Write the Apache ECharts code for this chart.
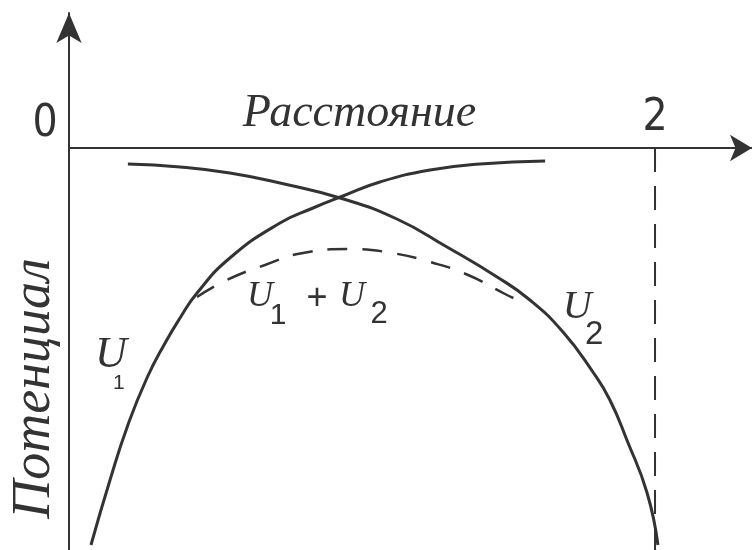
<!DOCTYPE html>
<html>
<head>
<meta charset="utf-8">
<script src="https://cdn.jsdelivr.net/npm/echarts@6/dist/echarts.min.js"></script>
<style>
  html, body { margin: 0; padding: 0; background: #fff; }
  #chart { width: 752px; height: 550px; }
</style>
</head>
<body>
<div id="chart"></div>
<script>
// Potential along the line joining two centres (distance 0 .. 2, arbitrary units)
const u1Distance  = [0.075, 0.140, 0.201, 0.266, 0.328, 0.379, 0.437, 0.549, 0.720, 0.833, 0.935, 1.061, 1.232, 1.403, 1.625];
const u1Potential = [-3.97, -3.32, -2.77, -2.30, -1.95, -1.70, -1.45, -1.10, -0.75, -0.60, -0.48, -0.34, -0.22, -0.16, -0.13];

const u2Distance  = [0.201, 0.379, 0.549, 0.720, 0.925, 1.119, 1.290, 1.461, 1.573, 1.686, 1.788, 1.846, 1.904, 1.973, 2.010];
const u2Potential = [-0.16, -0.19, -0.25, -0.35, -0.50, -0.71, -0.99, -1.29, -1.52, -1.84, -2.24, -2.52, -2.92, -3.45, -3.97];

const sumDistance  = [0.437, 0.539, 0.669, 0.799, 0.959, 1.102, 1.232, 1.362, 1.488, 1.532];
const sumPotential = [-1.49, -1.32, -1.17, -1.05, -1.01, -1.05, -1.14, -1.27, -1.46, -1.52];

// position of the second centre
const boundaryDistance  = [2, 2];
const boundaryPotential = [0, -4.02];

const xTickValues = [0, 2];
const xTickLabels = ['0', '2'];
const xAxisTitle = 'Расстояние';
const yAxisTitle = 'Потенциал';

const pairs = (xs, ys) => xs.map((x, i) => [x, ys[i]]);

const INK = '#333';
const DIGITS = '"Liberation Sans Narrow", "DejaVu Sans Condensed", "Liberation Sans", sans-serif';
const chart = echarts.init(document.getElementById('chart'), null, { renderer: 'canvas' });

const curve = (name, xs, ys, lineStyle) => ({
  name, type: 'line', data: pairs(xs, ys), xAxisIndex: 0, yAxisIndex: 0,
  smooth: 0.5, showSymbol: false, silent: true, clip: false, lineStyle
});

const option = {
  backgroundColor: '#fff',
  animation: false,
  grid: [
    // plotting area: below the distance axis
    { left: 69, right: 0, top: 148, bottom: 0, outerBoundsMode: 'none' },
    // carries the potential axis, which runs up past the distance axis
    { left: 69, right: 0, top: 13, bottom: 0, outerBoundsMode: 'none' }
  ],
  xAxis: [
    {
      gridIndex: 0,
      type: 'value',
      position: 'top',
      min: 0,
      max: 2.331,
      axisLine: {
        onZero: false,
        symbol: ['none', 'arrow'],
        symbolSize: [20, 22],
        lineStyle: { color: INK, width: 2 }
      },
      axisTick: { show: false },
      splitLine: { show: false },
      axisLabel: {
        margin: 1,
        customValues: xTickValues,
        formatter: v => {
          const t = xTickLabels[xTickValues.indexOf(v)];
          return v === 0 ? '{o|' + t + '}' : '{t|' + t + '}';
        },
        rich: {
          o: { fontSize: 44, fontFamily: DIGITS, color: INK, padding: [0, 48, 0, 0] },
          t: { fontSize: 44, fontFamily: DIGITS, color: INK, padding: [0, 0, 6, 0] }
        }
      },
      name: xAxisTitle,
      nameLocation: 'middle',
      nameGap: 34,
      nameMoveOverlap: false,
      nameTextStyle: {
        fontFamily: '"Liberation Serif", serif',
        fontStyle: 'italic',
        fontSize: 46,
        color: INK,
        verticalAlign: 'middle',
        padding: [0, 102, 0, 0]
      }
    },
    { gridIndex: 1, type: 'value', min: 0, max: 1, show: false }
  ],
  yAxis: [
    { gridIndex: 0, type: 'value', min: -4.02, max: 0, show: false },
    {
      gridIndex: 1,
      type: 'value',
      min: -4.02,
      max: 1.35,
      axisLine: {
        onZero: false,
        symbol: ['none', 'arrow'],
        symbolSize: [19, 30],
        lineStyle: { color: INK, width: 2 }
      },
      axisTick: { show: false },
      splitLine: { show: false },
      axisLabel: { show: false },
      name: yAxisTitle,
      nameLocation: 'middle',
      nameRotate: 90,
      nameGap: 34,
      nameMoveOverlap: false,
      nameTextStyle: {
        fontFamily: '"Liberation Serif", serif',
        fontStyle: 'italic',
        fontSize: 54,
        color: INK,
        verticalAlign: 'middle',
        padding: [0, 214, 0, 0]
      }
    }
  ],
  series: [
    curve('U1', u1Distance, u1Potential, { color: INK, width: 3 }),
    curve('U2', u2Distance, u2Potential, { color: INK, width: 3 }),
    curve('U1 + U2', sumDistance, sumPotential, { color: INK, width: 2.5, type: [20, 15] }),
    Object.assign(curve('boundary', boundaryDistance, boundaryPotential, { color: INK, width: 2, type: [24, 14] }), { smooth: false })
  ]
};
chart.setOption(option);

// Curve labels "U" with subscripts, anchored in data space
const serifItalic = size => 'italic ' + size + 'px "Liberation Serif", serif';
const sans = size => size + 'px "Liberation Sans", sans-serif';
const curveNotes = [
  { at: [0.143, -2.07], parts: [
    { t: 'U', f: serifItalic(44), dx: 0, dy: 0 },
    { t: '1', f: sans(21), dx: 8, dy: 28 }
  ]},
  { at: [0.652, -1.49], parts: [
    { t: 'U', f: serifItalic(36), dx: 0, dy: 0 },
    { t: '1', f: sans(30), dx: 18, dy: 19 },
    { t: '+', f: sans(36), dx: 57, dy: 2 },
    { t: 'U', f: serifItalic(36), dx: 92, dy: 0 },
    { t: '2', f: sans(31), dx: 119, dy: 17 }
  ]},
  { at: [1.734, -1.59], parts: [
    { t: 'U', f: serifItalic(40), dx: 0, dy: 0 },
    { t: '2', f: sans(33), dx: 17, dy: 28 }
  ]}
];

chart.setOption({
  graphic: curveNotes.map(n => {
    const p = chart.convertToPixel({ xAxisIndex: 0, yAxisIndex: 0 }, n.at);
    return {
      type: 'group', x: p[0], y: p[1], silent: true,
      children: n.parts.map(s => ({
        type: 'text',
        style: { text: s.t, x: s.dx, y: s.dy, font: s.f, fill: INK, align: 'center', verticalAlign: 'middle' }
      }))
    };
  })
});
</script>
</body>
</html>
